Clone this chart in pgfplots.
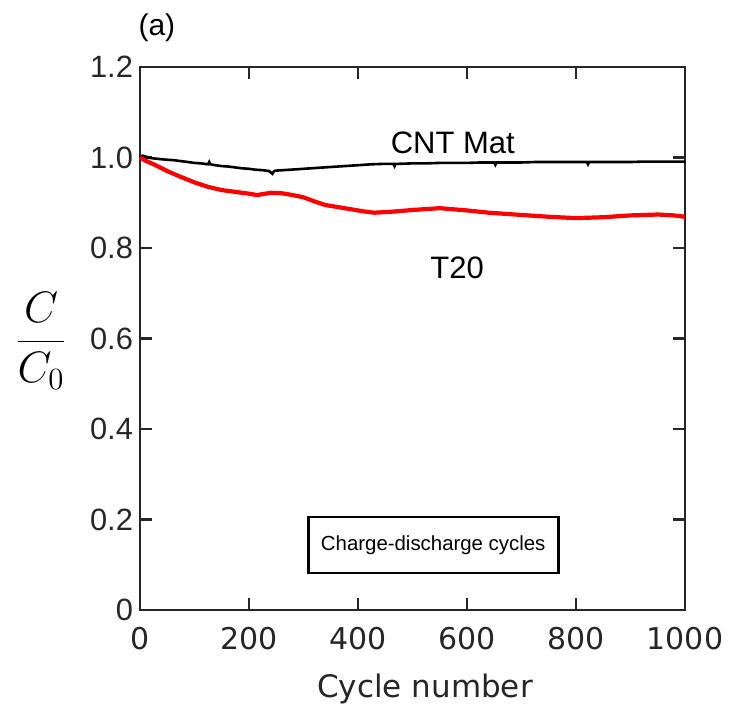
\RequirePackage{fix-cm}
\documentclass[border=0pt]{standalone}
\usepackage{pgfplots}
\pgfplotsset{compat=1.18}
\usepackage{fontspec}
\newfontfamily\arial{Liberation Sans}
\newfontfamily\dejavu{DejaVu Sans}
\definecolor{axgray}{HTML}{262626}
\begin{document}
\begin{tikzpicture}
\path[use as bounding box] (-70pt,-48pt) rectangle (296.5pt,305pt);
\begin{axis}[
  scale only axis,
  width=272.5pt, height=271.5pt,
  xmin=0, xmax=1000, ymin=0, ymax=1.2,
  xtick={0,200,400,600,800,1000},
  xticklabels={0,200,400,600,800,1000},
  ytick={0,0.2,0.4,0.6,0.8,1.0,1.2},
  yticklabels={0,0.2,0.4,0.6,0.8,1.0,1.2},
  tick align=inside,
  major tick length=6pt,
  every tick/.style={axgray, line width=1.1pt},
  axis line style={axgray, line width=1.3pt},
  xticklabel style={font=\dejavu\fontsize{15}{18}\selectfont, text=axgray, yshift=-5pt},
  yticklabel style={font=\arial\fontsize{15.4}{18}\selectfont, text=axgray},
  clip=false,
]
\addplot[black, line width=1.3pt] coordinates {
(0,1.000) (5,1.004) (10,1.002) (18,0.999) (25,0.998) (40,0.996) (50,0.995) (62,0.994) (75,0.992) (88,0.990) (100,0.988)
(112,0.987) (125,0.985) (127,0.990) (129,0.985) (138,0.983) (150,0.981) (162,0.980) (175,0.978) (188,0.976) (200,0.975)
(212,0.973) (225,0.972) (237,0.970) (243,0.964) (246,0.970) (250,0.971) (262,0.972) (275,0.973) (288,0.974) (300,0.975)
(325,0.977) (350,0.979) (375,0.981) (400,0.983) (425,0.985) (450,0.986) (465,0.986) (467,0.981) (469,0.986) (475,0.986) (500,0.987)
(525,0.987) (550,0.988) (575,0.988) (600,0.988) (625,0.989) (650,0.989) (652,0.984) (654,0.989) (675,0.989) (700,0.989)
(725,0.990) (750,0.990) (775,0.990) (800,0.990) (820,0.990) (822,0.985) (824,0.990) (850,0.990) (875,0.990) (900,0.990)
(925,0.991) (950,0.991) (975,0.991) (1000,0.991)
};
\addplot[red, line width=2.1pt] coordinates {
(0,1.000) (10,0.993) (25,0.985) (50,0.970) (75,0.957) (100,0.945) (125,0.935) (150,0.928)
(175,0.924) (200,0.920) (215,0.917) (240,0.922) (260,0.921) (280,0.917) (300,0.912) (320,0.903)
(340,0.895) (360,0.891) (385,0.886) (410,0.881) (430,0.878) (460,0.880) (500,0.884) (550,0.888)
(600,0.883) (640,0.878) (700,0.873) (750,0.869) (800,0.866) (850,0.868) (900,0.872) (950,0.874)
(980,0.872) (1000,0.869)
};
\node[font=\arial\fontsize{15.5}{18}\selectfont] at (axis cs:574,1.032) {CNT Mat};
\node[font=\arial\fontsize{15.5}{18}\selectfont] at (axis cs:582,0.756) {T20};
\node[font=\arial\fontsize{15}{18}\selectfont] at (axis cs:31,1.286) {(a)};
\node[draw=black, line width=1.4pt, minimum width=125pt, minimum height=28pt,
      font=\arial\fontsize{10.2}{12}\selectfont, fill=white] at (axis cs:538,0.1436) {Charge-discharge cycles};
\end{axis}
\node[font=\fontsize{22}{26}\selectfont] at (-49.5pt,134.5pt) {$\displaystyle\frac{C}{C_0}$};
\node[font=\dejavu\fontsize{15.5}{18}\selectfont, anchor=base, text=axgray] at (142.5pt,-43.5pt) {Cycle number};
\end{tikzpicture}
\end{document}
